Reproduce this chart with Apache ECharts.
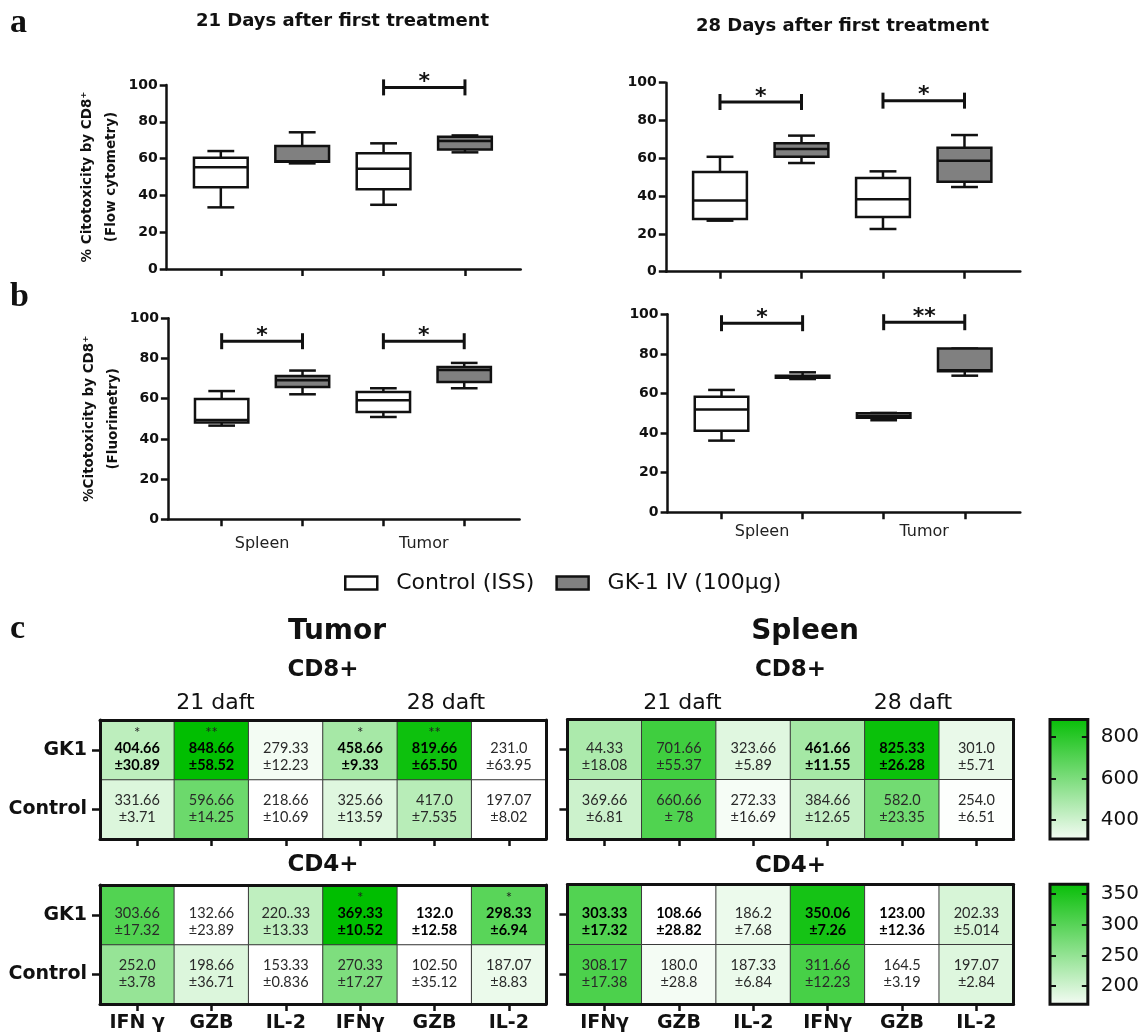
<!DOCTYPE html>
<html><head><meta charset="utf-8">
<script src="https://cdn.jsdelivr.net/npm/echarts@6/dist/echarts.min.js"></script>
<style>html,body{margin:0;padding:0;background:#fff;}#c{width:1142px;height:1033px;}</style>
</head><body><div id="c"></div>
<script>
// ---------- Box plots: [min, Q1, median, Q3, max] for [Spleen, Tumor] ----------
const organs = ['Spleen', 'Tumor'];
const flow21Control = [[33.5, 44.4, 55.3, 60.5, 64.1], [34.9, 43.3, 54.5, 62.9, 68.3]];
const flow21GK1     = [[57.4, 58.3, 58.6, 66.8, 74.3], [63.4, 65.0, 69.6, 71.9, 72.6]];
const flow28Control = [[27.0, 27.9, 37.7, 52.7, 60.8], [22.6, 28.9, 38.3, 49.6, 53.1]];
const flow28GK1     = [[57.5, 60.8, 64.9, 67.9, 72.0], [44.8, 47.6, 58.7, 65.6, 72.3]];
const fluo21Control = [[46.6, 48.1, 49.4, 59.9, 63.8], [50.9, 53.4, 59.2, 63.3, 65.2]];
const fluo21GK1     = [[62.2, 65.8, 69.2, 71.3, 74.0], [65.2, 68.3, 74.3, 75.8, 77.8]];
const fluo28Control = [[36.2, 41.2, 51.9, 58.4, 61.8], [46.5, 47.8, 48.8, 50.0, 50.2]];
const fluo28GK1     = [[67.3, 68.0, 68.5, 69.0, 70.7], [69.0, 71.2, 71.7, 82.7, 82.7]];
// significance brackets: [organ index, y value, mark]
const flow21Sig = [[1, 98.7, '*']];
const flow28Sig = [[0, 89.8, '*'], [1, 90.5, '*']];
const fluo21Sig = [[0, 88.6, '*'], [1, 88.6, '*']];
const fluo28Sig = [[0, 95.5, '*'], [1, 96.0, '**']];
const legendNames = ['Control (ISS)', 'GK-1 IV (100μg)'];

// ---------- Heatmaps ----------
const groups = ['Control', 'GK1'];
const tumorCytokines = ['IFN γ', 'GZB', 'IL-2', 'IFNγ', 'GZB', 'IL-2'];
const spleenCytokines = ['IFNγ', 'GZB', 'IL-2', 'IFNγ', 'GZB', 'IL-2'];
// cell values (drive colour)
const tumorCD8GK1 = [404.66, 848.66, 279.33, 458.66, 819.66, 231.0];
const tumorCD8Ctrl = [331.66, 596.66, 218.66, 325.66, 417.0, 197.07];
const spleenCD8GK1 = [444.33, 701.66, 323.66, 461.66, 825.33, 301.0]; // first cell printed "44.33", colour matches ~444
const spleenCD8Ctrl = [369.66, 660.66, 272.33, 384.66, 582.0, 254.0];
const tumorCD4GK1 = [303.66, 132.66, 220.33, 369.33, 132.0, 298.33];
const tumorCD4Ctrl = [252.0, 198.66, 153.33, 270.33, 102.50, 187.07];
const spleenCD4GK1 = [303.33, 108.66, 186.2, 350.06, 123.00, 202.33];
const spleenCD4Ctrl = [308.17, 180.0, 187.33, 311.66, 164.5, 197.07];
// printed text
const tumorCD8GK1Txt = ['404.66', '848.66', '279.33', '458.66', '819.66', '231.0'];
const tumorCD8GK1Sd = ['30.89', '58.52', '12.23', '9.33', '65.50', '63.95'];
const tumorCD8CtrlTxt = ['331.66', '596.66', '218.66', '325.66', '417.0', '197.07'];
const tumorCD8CtrlSd = ['3.71', '14.25', '10.69', '13.59', '7.535', '8.02'];
const spleenCD8GK1Txt = ['44.33', '701.66', '323.66', '461.66', '825.33', '301.0'];
const spleenCD8GK1Sd = ['18.08', '55.37', '5.89', '11.55', '26.28', '5.71'];
const spleenCD8CtrlTxt = ['369.66', '660.66', '272.33', '384.66', '582.0', '254.0'];
const spleenCD8CtrlSd = ['6.81', ' 78', '16.69', '12.65', '23.35', '6.51'];
const tumorCD4GK1Txt = ['303.66', '132.66', '220..33', '369.33', '132.0', '298.33'];
const tumorCD4GK1Sd = ['17.32', '23.89', '13.33', '10.52', '12.58', '6.94'];
const tumorCD4CtrlTxt = ['252.0', '198.66', '153.33', '270.33', '102.50', '187.07'];
const tumorCD4CtrlSd = ['3.78', '36.71', '0.836', '17.27', '35.12', '8.83'];
const spleenCD4GK1Txt = ['303.33', '108.66', '186.2', '350.06', '123.00', '202.33'];
const spleenCD4GK1Sd = ['17.32', '28.82', '7.68', '7.26', '12.36', '5.014'];
const spleenCD4CtrlTxt = ['308.17', '180.0', '187.33', '311.66', '164.5', '197.07'];
const spleenCD4CtrlSd = ['17.38', '28.8', '6.84', '12.23', '3.19', '2.84'];
const tumorCD8Sig = ['*', '**', '', '*', '**', ''];
const spleenCD8Sig = ['', '', '', '', '', ''];
const tumorCD4Sig = ['', '', '', '*', '', '*'];
const spleenCD4Sig = ['', '', '', '', '', ''];
const tumorCD8Bold = [1, 1, 0, 1, 1, 0];
const spleenCD8Bold = [0, 0, 0, 1, 1, 0];
const tumorCD4Bold = [0, 0, 0, 1, 1, 1];
const spleenCD4Bold = [1, 1, 0, 1, 1, 0];
// colour scales
const cd8ColorRange = [250, 850];
const cd4ColorRange = [172, 366];
const cd8BarRange = [309, 884];
const cd4BarRange = [170, 366];
const cd8BarTicks = [400, 600, 800];
const cd4BarTicks = [200, 250, 300, 350];

// ---------- helpers ----------
const DV = 'DejaVu Sans';
const INK = '#111';
const GREEN = '#00be00';

function boxData(arr, offset) {
  return arr.map((b, i) => [i * 2 + offset].concat(b));
}
function boxRender(fill) {
  return function (params, api) {
    const x = api.value(0);
    const unit = api.size([1, 0])[0];
    const bw = unit * 0.66, cw = unit * 0.33;
    const pMin = api.coord([x, api.value(1)]);
    const pQ1 = api.coord([x, api.value(2)]);
    const pMed = api.coord([x, api.value(3)]);
    const pQ3 = api.coord([x, api.value(4)]);
    const pMax = api.coord([x, api.value(5)]);
    const cx = pMed[0];
    const ls = { stroke: INK, lineWidth: 2.5 };
    return { type: 'group', children: [
      { type: 'line', shape: { x1: cx, y1: pMax[1], x2: cx, y2: pQ3[1] }, style: ls },
      { type: 'line', shape: { x1: cx, y1: pQ1[1], x2: cx, y2: pMin[1] }, style: ls },
      { type: 'line', shape: { x1: cx - cw / 2, y1: pMax[1], x2: cx + cw / 2, y2: pMax[1] }, style: ls },
      { type: 'line', shape: { x1: cx - cw / 2, y1: pMin[1], x2: cx + cw / 2, y2: pMin[1] }, style: ls },
      { type: 'rect', shape: { x: cx - bw / 2, y: pQ3[1], width: bw, height: pQ1[1] - pQ3[1] }, style: { fill: fill, stroke: INK, lineWidth: 2.5 } },
      { type: 'line', shape: { x1: cx - bw / 2, y1: pMed[1], x2: cx + bw / 2, y2: pMed[1] }, style: ls }
    ] };
  };
}
function bracketRender(marks) {
  return function (params, api) {
    const p1 = api.coord([api.value(0), api.value(2)]);
    const p2 = api.coord([api.value(1), api.value(2)]);
    const st = { stroke: INK, lineWidth: 3 };
    return { type: 'group', children: [
      { type: 'line', shape: { x1: p1[0], y1: p1[1], x2: p2[0], y2: p2[1] }, style: st },
      { type: 'line', shape: { x1: p1[0], y1: p1[1] - 8, x2: p1[0], y2: p1[1] + 8 }, style: st },
      { type: 'line', shape: { x1: p2[0], y1: p2[1] - 8, x2: p2[0], y2: p2[1] + 8 }, style: st },
      { type: 'text', x: (p1[0] + p2[0]) / 2, y: p1[1] - 5, style: { text: marks[params.dataIndex], align: 'center', verticalAlign: 'middle', fontSize: 22, fontWeight: 'bold', fontFamily: DV, fill: INK } }
    ] };
  };
}
function heatData(gk, ctrl, gkTxt, gkSd, ctrlTxt, ctrlSd, sig, bold) {
  const out = [];
  for (let c = 0; c < gk.length; c++) {
    out.push({ value: [c, 0, ctrl[c]], label: { formatter: '{n|' + ctrlTxt[c] + '}\n{n|±' + ctrlSd[c] + '}' } });
    const st = bold[c] ? 'b' : 'n';
    out.push({ value: [c, 1, gk[c]], label: { formatter: '{s|' + (sig[c] || ' ') + '}\n{' + st + '|' + gkTxt[c] + '}\n{' + st + '|±' + gkSd[c] + '}' } });
  }
  return out;
}
function colorbarRender(params, api) {
  const pTop = api.coord([0, api.value(3)]);
  const pBot = api.coord([1, api.value(2)]);
  return { type: 'rect', shape: { x: pTop[0], y: pTop[1], width: pBot[0] - pTop[0], height: pBot[1] - pTop[1] },
    style: { fill: new echarts.graphic.LinearGradient(0, 0, 0, 1, [{ offset: 0, color: '#06be06' }, { offset: 1, color: '#f6fcf6' }]), stroke: INK, lineWidth: 3 } };
}

// ---------- layout ----------
const boxPanels = [
  { ctrl: flow21Control, gk: flow21GK1, sig: flow21Sig, grid: { left: 166.7, top: 85, width: 354, height: 184 }, labels: false, margin: 17, yName: '% Citotoxicity by CD8⁺\n(Flow cytometry)', nameGap: 43 },
  { ctrl: flow28Control, gk: flow28GK1, sig: flow28Sig, grid: { left: 665.8, top: 82.7, width: 354.5, height: 189 }, labels: false, margin: 17, yName: '', nameGap: 40 },
  { ctrl: fluo21Control, gk: fluo21GK1, sig: fluo21Sig, grid: { left: 167.9, top: 318.3, width: 351.7, height: 201 }, labels: true, margin: 17, yName: '%Citotoxicity by CD8⁺\n(Fluorimetry)', nameGap: 41 },
  { ctrl: fluo28Control, gk: fluo28GK1, sig: fluo28Sig, grid: { left: 667.6, top: 314.3, width: 352.7, height: 198 }, labels: true, margin: 12, yName: '', nameGap: 40 }
];
const heatPanels = [
  { gk: tumorCD8GK1, ctrl: tumorCD8Ctrl, gkTxt: tumorCD8GK1Txt, gkSd: tumorCD8GK1Sd, ctrlTxt: tumorCD8CtrlTxt, ctrlSd: tumorCD8CtrlSd, sig: tumorCD8Sig, bold: tumorCD8Bold, cats: tumorCytokines, grid: { left: 100, top: 720, width: 446, height: 119 }, xLabels: false, yLabels: true, vm: 0 },
  { gk: spleenCD8GK1, ctrl: spleenCD8Ctrl, gkTxt: spleenCD8GK1Txt, gkSd: spleenCD8GK1Sd, ctrlTxt: spleenCD8CtrlTxt, ctrlSd: spleenCD8CtrlSd, sig: spleenCD8Sig, bold: spleenCD8Bold, cats: spleenCytokines, grid: { left: 567.4, top: 719.5, width: 446.2, height: 119.5 }, xLabels: false, yLabels: false, vm: 0 },
  { gk: tumorCD4GK1, ctrl: tumorCD4Ctrl, gkTxt: tumorCD4GK1Txt, gkSd: tumorCD4GK1Sd, ctrlTxt: tumorCD4CtrlTxt, ctrlSd: tumorCD4CtrlSd, sig: tumorCD4Sig, bold: tumorCD4Bold, cats: tumorCytokines, grid: { left: 100, top: 885, width: 446, height: 119 }, xLabels: true, yLabels: true, vm: 1 },
  { gk: spleenCD4GK1, ctrl: spleenCD4Ctrl, gkTxt: spleenCD4GK1Txt, gkSd: spleenCD4GK1Sd, ctrlTxt: spleenCD4CtrlTxt, ctrlSd: spleenCD4CtrlSd, sig: spleenCD4Sig, bold: spleenCD4Bold, cats: spleenCytokines, grid: { left: 567.4, top: 884.5, width: 446.2, height: 119.5 }, xLabels: true, yLabels: false, vm: 1 }
];
const colorbars = [
  { range: cd8BarRange, ticks: cd8BarTicks, grid: { left: 1050, top: 719.5, width: 38.3, height: 119.5 } },
  { range: cd4BarRange, ticks: cd4BarTicks, grid: { left: 1050, top: 884.3, width: 38.3, height: 120 } }
];

const grids = [], xAxes = [], yAxes = [], series = [];
const axisLS = { color: INK, width: 2.5 };

boxPanels.forEach((p, i) => {
  grids.push(p.grid);
  xAxes.push({ type: 'value', gridIndex: i, min: -0.665, max: 3.685, z: 5,
    axisLine: { show: true, onZero: false, lineStyle: axisLS },
    axisTick: { show: true, customValues: [0, 1, 2, 3], length: 7, lineStyle: axisLS },
    axisLabel: { show: p.labels, customValues: [0.5, 2.5], formatter: v => organs[Math.round((v - 0.5) / 2)], fontFamily: DV, fontSize: 16, color: '#222', margin: p.margin },
    splitLine: { show: false } });
  yAxes.push({ type: 'value', gridIndex: i, min: 0, max: 100, interval: 20, z: 5,
    name: p.yName, nameLocation: 'middle', nameRotate: 90, nameGap: p.nameGap,
    nameTextStyle: { fontFamily: DV, fontWeight: 'bold', fontSize: 13.5, color: INK, lineHeight: 24 },
    axisLine: { show: true, onZero: false, lineStyle: axisLS },
    axisTick: { show: true, length: 7, lineStyle: axisLS },
    axisLabel: { fontFamily: DV, fontWeight: 'bold', fontSize: 14, color: INK, margin: 9 },
    splitLine: { show: false } });
  series.push({ type: 'custom', name: legendNames[0], xAxisIndex: i, yAxisIndex: i, data: boxData(p.ctrl, 0), encode: { x: 0, y: [1, 2, 3, 4, 5] }, renderItem: boxRender('#ffffff'), itemStyle: { color: '#ffffff' }, silent: true, z: 3 });
  series.push({ type: 'custom', name: legendNames[1], xAxisIndex: i, yAxisIndex: i, data: boxData(p.gk, 1), encode: { x: 0, y: [1, 2, 3, 4, 5] }, renderItem: boxRender('#808080'), itemStyle: { color: '#808080' }, silent: true, z: 3 });
  series.push({ type: 'custom', name: 'sig' + i, xAxisIndex: i, yAxisIndex: i, data: p.sig.map(s => [s[0] * 2, s[0] * 2 + 1, s[1]]), encode: { x: [0, 1], y: 2 }, renderItem: bracketRender(p.sig.map(s => s[2])), silent: true, z: 3 });
});

const heatSeriesIdx = [[], []];
heatPanels.forEach((h, k) => {
  const gi = grids.length;
  grids.push(h.grid);
  const xb = xAxes.length;
  xAxes.push({ type: 'category', gridIndex: gi, data: h.cats, position: 'bottom', z: 5,
    axisLine: { show: true, onZero: false, lineStyle: { color: INK, width: 3 } },
    axisTick: { show: true, alignWithLabel: true, length: 7, lineStyle: axisLS },
    axisLabel: { show: h.xLabels, fontFamily: DV, fontWeight: 'bold', fontSize: 19, color: INK, margin: 10 },
    splitLine: { show: false } });
  xAxes.push({ type: 'category', gridIndex: gi, data: h.cats, position: 'top', z: 5,
    axisLine: { show: true, onZero: false, lineStyle: { color: INK, width: 3 } }, axisTick: { show: false }, axisLabel: { show: false }, splitLine: { show: false } });
  const yl = yAxes.length;
  yAxes.push({ type: 'category', gridIndex: gi, data: groups, position: 'left', z: 5,
    axisLine: { show: true, onZero: false, lineStyle: { color: INK, width: 3 } },
    axisTick: { show: true, alignWithLabel: true, length: 8, lineStyle: axisLS },
    axisLabel: { show: h.yLabels, fontFamily: DV, fontWeight: 'bold', fontSize: 19, color: INK, margin: 13 },
    splitLine: { show: false } });
  yAxes.push({ type: 'category', gridIndex: gi, data: groups, position: 'right', z: 5,
    axisLine: { show: true, onZero: false, lineStyle: { color: INK, width: 3 } }, axisTick: { show: false }, axisLabel: { show: false }, splitLine: { show: false } });
  heatSeriesIdx[h.vm].push(series.length);
  series.push({ type: 'heatmap', xAxisIndex: xb, yAxisIndex: yl,
    data: heatData(h.gk, h.ctrl, h.gkTxt, h.gkSd, h.ctrlTxt, h.ctrlSd, h.sig, h.bold),
    itemStyle: { borderColor: '#3a3a3a', borderWidth: 1 },
    emphasis: { disabled: true }, silent: true,
    label: { show: true, rich: {
      n: { fontFamily: 'Lato', fontSize: 14.5, color: '#2a2a2a', lineHeight: 17 },
      b: { fontFamily: 'Lato', fontSize: 14.5, fontWeight: 'bold', color: '#000', lineHeight: 17 },
      s: { fontFamily: 'Lato', fontSize: 15, color: '#222', lineHeight: 14 } } } });
});

colorbars.forEach((c) => {
  const gi = grids.length;
  grids.push(c.grid);
  const xi = xAxes.length;
  xAxes.push({ type: 'value', gridIndex: gi, min: 0, max: 1, show: false });
  const yi = yAxes.length;
  const tickCommon = { show: true, inside: true, length: 6, customValues: c.ticks, lineStyle: { color: INK, width: 2 } };
  yAxes.push({ type: 'value', gridIndex: gi, position: 'left', min: c.range[0], max: c.range[1], z: 5,
    axisLine: { show: false, onZero: false }, axisTick: tickCommon, axisLabel: { show: false }, splitLine: { show: false } });
  yAxes.push({ type: 'value', gridIndex: gi, position: 'right', min: c.range[0], max: c.range[1], z: 5,
    axisLine: { show: false, onZero: false }, axisTick: tickCommon,
    axisLabel: { show: true, customValues: c.ticks, fontFamily: DV, fontSize: 20, color: INK, margin: 13 },
    splitLine: { show: false } });
  series.push({ type: 'custom', xAxisIndex: xi, yAxisIndex: yi, data: [[0, 1, c.range[0], c.range[1]]], encode: { x: [0, 1], y: [2, 3] }, renderItem: colorbarRender, silent: true, z: 1 });
});

function txt(t, x, y, size, weight, family, align) {
  return { type: 'text', x: x, y: y, silent: true, style: { text: t, fontSize: size, fontWeight: weight, fontFamily: family, fill: INK, align: align || 'center', verticalAlign: 'middle' } };
}
const graphics = [
  txt('a', 10, 23, 34, 'bold', 'Liberation Serif', 'left'),
  txt('b', 10, 297, 34, 'bold', 'Liberation Serif', 'left'),
  txt('c', 10, 629, 34, 'bold', 'Liberation Serif', 'left'),
  txt('21 Days after first treatment', 342.5, 21, 18, 'bold', DV),
  txt('28 Days after first treatment', 842.5, 26, 18, 'bold', DV),
  txt('Tumor', 337, 632, 28, 'bold', DV),
  txt('Spleen', 805, 632, 28, 'bold', DV),
  txt('CD8+', 323, 670, 23, 'bold', DV),
  txt('CD8+', 790.5, 670, 23, 'bold', DV),
  txt('CD4+', 323, 865, 23, 'bold', DV),
  txt('CD4+', 790.5, 866, 23, 'bold', DV),
  txt('21 daft', 215.5, 703, 22, 'normal', DV),
  txt('28 daft', 446, 703, 22, 'normal', DV),
  txt('21 daft', 682.5, 703, 22, 'normal', DV),
  txt('28 daft', 913, 703, 22, 'normal', DV)
];

const option = {
  backgroundColor: '#ffffff',
  animation: false,
  grid: grids,
  xAxis: xAxes,
  yAxis: yAxes,
  series: series,
  visualMap: [
    { type: 'continuous', show: false, seriesIndex: heatSeriesIdx[0], dimension: 2, min: cd8ColorRange[0], max: cd8ColorRange[1], inRange: { color: ['#ffffff', GREEN] } },
    { type: 'continuous', show: false, seriesIndex: heatSeriesIdx[1], dimension: 2, min: cd4ColorRange[0], max: cd4ColorRange[1], inRange: { color: ['#ffffff', GREEN] } }
  ],
  legend: {
    left: 339, top: 567, selectedMode: false, itemWidth: 32, itemHeight: 13, itemGap: 21,
    textStyle: { fontFamily: DV, fontSize: 22, color: INK, padding: [0, 0, 0, 14] },
    data: [
      { name: legendNames[0], icon: 'rect', itemStyle: { color: '#ffffff', borderColor: INK, borderWidth: 2.5 } },
      { name: legendNames[1], icon: 'rect', itemStyle: { color: '#808080', borderColor: INK, borderWidth: 2.5 } }
    ]
  },
  graphic: graphics
};
const chart = echarts.init(document.getElementById('c'));
chart.setOption(option);
</script></body></html>
